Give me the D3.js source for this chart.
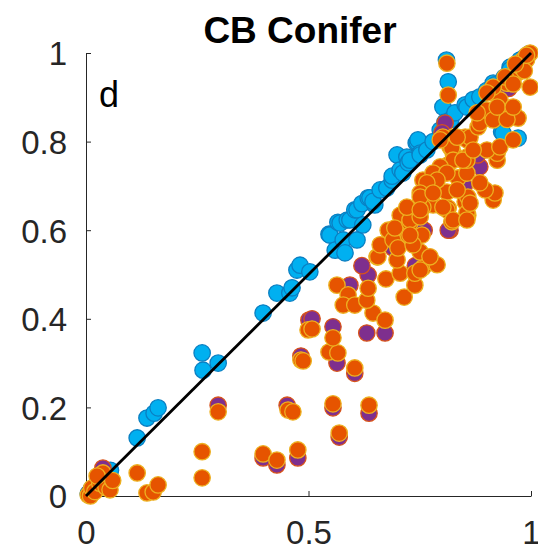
<!DOCTYPE html>
<html>
<head>
<meta charset="utf-8">
<script src="https://cdn.jsdelivr.net/npm/d3@7"></script>
<style>
  body { margin: 0; background: #fff; }
  svg text { font-family: "Liberation Sans", Arial, sans-serif; }
</style>
</head>
<body>
<div id="chart"></div>
<script>
(function () {
  "use strict";

  // values, [x, y]
  const blueSeries = [
    [0.005, 0.005], [0.012, 0.015], [0.02, 0.022], [0.03, 0.032], [0.04, 0.045], [0.055, 0.058],
    [0.115, 0.131], [0.137, 0.176], [0.153, 0.187], [0.162, 0.199],
    [0.261, 0.323], [0.263, 0.284], [0.297, 0.300],
    [0.398, 0.413], [0.429, 0.458], [0.458, 0.458], [0.463, 0.47], [0.474, 0.51], [0.481, 0.521], [0.503, 0.506],
    [0.546, 0.591], [0.548, 0.589], [0.56, 0.555], [0.566, 0.618], [0.571, 0.616], [0.578, 0.578],
    [0.582, 0.549], [0.587, 0.623], [0.593, 0.623], [0.604, 0.646], [0.609, 0.646], [0.609, 0.578],
    [0.622, 0.612], [0.62, 0.66], [0.634, 0.673], [0.638, 0.673], [0.649, 0.657], [0.645, 0.665],
    [0.661, 0.691], [0.676, 0.695], [0.688, 0.713], [0.688, 0.722], [0.699, 0.77], [0.706, 0.736],
    [0.712, 0.729], [0.721, 0.765], [0.724, 0.752], [0.728, 0.758], [0.742, 0.797], [0.744, 0.799],
    [0.746, 0.804], [0.751, 0.774], [0.751, 0.77], [0.766, 0.781], [0.78, 0.80], [0.796, 0.826],
    [0.802, 0.878], [0.807, 0.844], [0.81, 0.984], [0.814, 0.935], [0.82, 0.85], [0.829, 0.865],
    [0.852, 0.883], [0.856, 0.878], [0.87, 0.895], [0.885, 0.901], [0.9, 0.915], [0.915, 0.932],
    [0.919, 0.928], [0.934, 0.822], [0.937, 0.819], [0.94, 0.945], [0.953, 0.968], [0.953, 0.962],
    [0.971, 0.808], [0.975, 0.984], [0.985, 0.99], [0.995, 0.998]
  ];

  const purpleSeries = [
    [0.01, 0.01], [0.03, 0.04], [0.038, 0.063], [0.05, 0.03],
    [0.297, 0.205], [0.452, 0.205], [0.398, 0.086], [0.429, 0.07], [0.476, 0.086],
    [0.483, 0.316], [0.501, 0.397], [0.508, 0.4], [0.555, 0.199], [0.636, 0.187], [0.569, 0.133],
    [0.564, 0.3], [0.604, 0.277], [0.555, 0.382], [0.672, 0.368], [0.631, 0.368], [0.634, 0.499],
    [0.593, 0.476], [0.62, 0.52], [0.69, 0.56], [0.818, 0.6], [0.807, 0.842], [0.885, 0.743],
    [0.814, 0.6], [0.74, 0.52], [0.76, 0.6], [0.85, 0.7], [0.88, 0.77], [0.93, 0.87],
    [0.95, 0.92], [0.98, 0.97], [0.72, 0.64], [0.78, 0.71], [0.80, 0.82], [0.86, 0.66]
  ];

  const orangeSeries = [
    [0.005, 0.002], [0.01, 0.0], [0.013, 0.018], [0.02, 0.01], [0.031, 0.029], [0.038, 0.052],
    [0.045, 0.02], [0.054, 0.014], [0.06, 0.035], [0.025, 0.045],
    [0.115, 0.052], [0.137, 0.007], [0.151, 0.009], [0.162, 0.025],
    [0.261, 0.1], [0.261, 0.041], [0.297, 0.19], [0.454, 0.194], [0.465, 0.19],
    [0.398, 0.095], [0.429, 0.081], [0.476, 0.104], [0.483, 0.307], [0.499, 0.375],
    [0.508, 0.377], [0.488, 0.305], [0.555, 0.208], [0.636, 0.205], [0.569, 0.142],
    [0.546, 0.325], [0.566, 0.323], [0.604, 0.289], [0.555, 0.357], [0.645, 0.413],
    [0.672, 0.397], [0.564, 0.476], [0.589, 0.454], [0.578, 0.431], [0.604, 0.431],
    [0.631, 0.442], [0.634, 0.469], [0.654, 0.54], [0.656, 0.54], [0.661, 0.567], [0.674, 0.49],
    [0.679, 0.6], [0.706, 0.634], [0.715, 0.449],
    [0.739, 0.476], [0.706, 0.503], [0.739, 0.503], [0.757, 0.515], [0.778, 0.529],
    [0.789, 0.522], [0.699, 0.533], [0.69, 0.578], [0.701, 0.56], [0.724, 0.589], [0.755, 0.589],
    [0.751, 0.551], [0.735, 0.567], [0.773, 0.54], [0.751, 0.51], [0.694, 0.605], [0.728, 0.616],
    [0.728, 0.623], [0.728, 0.589], [0.751, 0.63], [0.751, 0.664], [0.78, 0.657],
    [0.721, 0.652], [0.757, 0.652], [0.757, 0.713], [0.789, 0.718], [0.813, 0.747],
    [0.818, 0.788], [0.825, 0.81], [0.852, 0.81], [0.856, 0.765], [0.836, 0.718], [0.811, 0.686],
    [0.814, 0.65], [0.811, 0.646], [0.822, 0.619], [0.858, 0.634], [0.852, 0.664], [0.915, 0.668],
    [0.811, 0.977], [0.814, 0.905], [0.802, 0.81], [0.825, 0.774], [0.856, 0.804],
    [0.863, 0.81], [0.881, 0.833], [0.885, 0.842], [0.901, 0.871], [0.93, 0.878], [0.93, 0.894],
    [0.946, 0.932], [0.969, 0.955], [0.96, 0.946], [0.991, 0.991],
    [0.982, 0.984], [0.998, 1.0], [0.998, 0.923], [0.971, 0.853], [0.915, 0.849],
    [0.946, 0.85], [0.924, 0.758], [0.924, 0.774], [0.901, 0.781], [0.919, 0.684], [0.897, 0.691],
    [0.856, 0.729], [0.856, 0.758], [0.858, 0.675], [0.856, 0.639],
    [0.885, 0.707], [0.863, 0.661], [0.822, 0.786], [0.825, 0.758], [0.796, 0.743], [0.78, 0.729],
    [0.811, 0.729], [0.789, 0.713], [0.766, 0.707], [0.751, 0.684], [0.751, 0.675], [0.78, 0.684],
    [0.802, 0.652], [0.751, 0.646], [0.825, 0.623], [0.856, 0.623], [0.834, 0.691], [0.847, 0.758],
    [0.87, 0.781], [0.93, 0.788], [0.96, 0.804], [0.942, 0.946], [0.915, 0.923],
    [0.901, 0.91], [0.879, 0.865], [0.924, 0.878], [0.96, 0.878], [0.834, 0.81],
    [0.796, 0.804], [0.975, 0.97], [0.99, 0.985], [0.985, 0.96], [0.96, 0.93],
    [0.99, 0.995], [0.965, 0.975]
  ];

  const xTicks = [0, 0.5, 1];
  const yTicks = [0, 0.2, 0.4, 0.6, 0.8, 1];
  const titleText = "CB Conifer";
  const panelLabel = "d";

  const width = 538, height = 552;
  const margin = { top: 53, right: 7, bottom: 56, left: 86 };

  const svg = d3.select("#chart")
    .append("svg")
    .attr("width", width)
    .attr("height", height);

  const x = d3.scaleLinear().domain([0, 1]).range([margin.left, width - margin.right]);
  const y = d3.scaleLinear().domain([0, 1]).range([height - margin.bottom, margin.top]);

  const axisColor = "#262626";

  // x axis, ticks pointing inward
  const xAxis = svg.append("g")
    .attr("transform", `translate(0,${y(0)})`)
    .call(d3.axisBottom(x).tickValues(xTicks).tickSizeInner(-5).tickSizeOuter(0)
      .tickFormat(d3.format("")));
  xAxis.select(".domain").attr("stroke", axisColor);
  xAxis.selectAll(".tick line").attr("stroke", axisColor);
  xAxis.selectAll(".tick text")
    .attr("fill", axisColor)
    .attr("font-size", 33)
    .attr("dy", null)
    .attr("y", 48);

  const yAxis = svg.append("g")
    .attr("transform", `translate(${x(0)},0)`)
    .call(d3.axisLeft(y).tickValues(yTicks).tickSizeInner(-5).tickSizeOuter(0)
      .tickFormat(d3.format("")));
  yAxis.select(".domain").attr("stroke", axisColor);
  yAxis.selectAll(".tick line").attr("stroke", axisColor);
  yAxis.selectAll(".tick text")
    .attr("fill", axisColor)
    .attr("font-size", 33)
    .attr("x", -19)
    .attr("dy", "0.36em");

  // points
  function drawPoints(data, fill, stroke) {
    svg.append("g")
      .selectAll("circle")
      .data(data)
      .join("circle")
      .attr("cx", (d) => x(d[0]))
      .attr("cy", (d) => y(d[1]))
      .attr("r", 8.2)
      .attr("fill", fill)
      .attr("stroke", stroke)
      .attr("stroke-width", 1.3);
  }

  drawPoints(blueSeries, "#00b0f0", "#0a7fc2");
  drawPoints(purpleSeries, "#7e2f8e", "#d95319");
  drawPoints(orangeSeries, "#e65400", "#edb120");

  // 1:1 line
  svg.append("line")
    .attr("x1", x(0)).attr("y1", y(0))
    .attr("x2", x(1)).attr("y2", y(1))
    .attr("stroke", "#000")
    .attr("stroke-width", 2.8);

  svg.append("text")
    .attr("x", 300)
    .attr("y", 43)
    .attr("text-anchor", "middle")
    .attr("font-size", 37)
    .attr("font-weight", "bold")
    .attr("fill", "#000")
    .text(titleText);

  svg.append("text")
    .attr("x", 99)
    .attr("y", 107)
    .attr("font-size", 36)
    .attr("fill", "#000")
    .text(panelLabel);
})();
</script>
</body>
</html>
